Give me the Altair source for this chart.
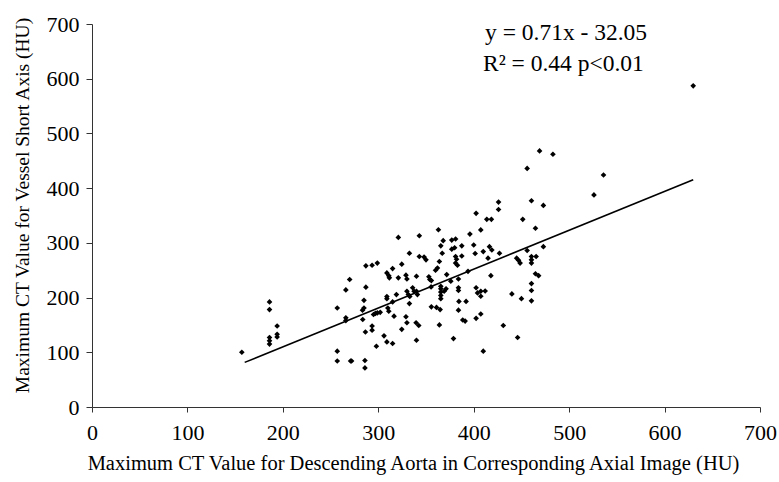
import altair as alt
import pandas as pd

# Scatter data (Descending aorta HU, Vessel short axis HU)
aorta_hu = [
    157, 186, 186, 194, 194, 194, 186, 186, 186, 257, 266, 270, 266, 266, 257, 257, 271,
    402.5, 363, 396, 321, 343, 368, 377, 381, 365.5, 377, 380, 387.5, 400, 332.6,
    343, 348, 350, 367, 381, 382, 387.5, 381, 383, 364, 362, 360, 401.5,
    287, 293.5, 299, 315, 309, 311, 311.6, 324.6, 321, 329, 330, 340,
    353, 354, 355.6, 371.7, 376, 384, 394, 287, 285, 285, 283.5,
    295, 297, 299, 302, 283.7, 293.5, 293.5, 286.5, 298, 306, 309, 315,
    309, 309, 315, 310, 311, 316.5, 319, 330, 331.5, 333, 336, 337.5, 332.6,
    340, 341, 329, 330, 324.6, 339.6, 342.4, 340, 355.3, 355.6, 361, 364.8,
    365.5, 365.5, 365.5, 365.5, 365.5, 369, 371, 364, 384, 384, 384.5, 392, 384,
    388.5, 391, 402.5, 378.8, 402.5, 404, 272, 286, 286,
    469, 483, 456, 426, 426, 460.5, 473, 413.7, 418.5, 451.4, 407.4, 464.7,
    416.5, 419, 410, 427, 473, 456, 415, 445, 447, 448.6, 460.5, 460.5, 460.5, 465.4,
    418, 464.7, 468, 407.4, 412, 407.4, 460.5, 460.5, 460.5, 440, 450, 407.4,
    431, 446, 410, 526, 536, 630,
]
vessel_hu = [
    100, 192, 178, 148, 133, 128, 127, 121, 115, 181, 214, 233, 163, 158, 102, 84, 84,
    354, 324, 316, 310, 313, 304, 305, 307, 294.5, 288.5, 291, 294.5, 296, 281,
    275, 274, 269, 281, 275, 270, 276, 263, 259, 266, 254, 250, 280.5,
    258, 259, 263, 253, 245, 240, 236, 261, 236, 241, 234, 239,
    238, 233, 231, 242, 230, 234, 248, 219, 195, 181, 177,
    169, 171, 172, 173, 160, 148, 140.5, 137, 111, 130, 119, 116,
    202, 198, 192, 181, 175, 166, 205.5, 211.5, 205.5, 202, 218, 211.5, 189,
    211.5, 205.5, 165, 154, 142, 154, 149, 122, 219.5, 183, 182, 178,
    220.5, 216, 210, 204, 198, 211.5, 216, 150, 218, 213, 193, 193, 177,
    159, 157, 162, 125, 218, 208.5, 84, 85, 71.5,
    468, 462, 436, 374.5, 361, 377, 368.5, 343, 343, 343, 323.6, 326.7,
    293, 287, 284, 281, 293, 286, 272, 272, 268, 263, 275, 269, 263, 275,
    240, 243.6, 240, 211.5, 212, 202.4, 225.5, 213, 194, 206.7, 198, 170,
    149, 127, 102, 387.6, 424, 587,
]

# Regression reported on the chart: y = 0.71x - 32.05, drawn over the data range
slope = 0.71
intercept = -32.05
fit_x_range = [160, 630]

axis_ticks = [0, 100, 200, 300, 400, 500, 600, 700]
equation_lines = ["y = 0.71x - 32.05", "R\u00b2 = 0.44  p<0.01"]

FONT = "Liberation Serif"

points = pd.DataFrame({"aorta": aorta_hu, "vessel": vessel_hu})
fit = pd.DataFrame({
    "aorta": fit_x_range,
    "vessel": [slope * v + intercept for v in fit_x_range],
})

x_scale = alt.Scale(domain=[0, 700], nice=False, zero=True)
y_scale = alt.Scale(domain=[0, 700], nice=False, zero=True)

x_axis = alt.Axis(
    values=axis_ticks, title="Maximum CT Value for Descending Aorta in Corresponding Axial Image (HU)",
    grid=False, tickSize=5, tickColor="#333", domainColor="#333",
    labelFont=FONT, labelFontSize=22, labelColor="black", labelPadding=10, labelFlush=False,
    titleFont=FONT, titleFontSize=20.5, titleFontWeight="normal", titleColor="black", titlePadding=10,
    titleX=321,
)
y_axis = alt.Axis(
    values=axis_ticks, title="Maximum CT Value for Vessel Short Axis (HU)",
    grid=False, tickSize=6, tickColor="#333", domainColor="#333",
    labelFont=FONT, labelFontSize=22, labelColor="black", labelPadding=7, labelFlush=False,
    titleFont=FONT, titleFontSize=19.5, titleFontWeight="normal", titleColor="black", titlePadding=14,
    titleY=181,
)

scatter = alt.Chart(points).mark_point(
    filled=True, shape="diamond", size=32, color="black", opacity=1
).encode(
    x=alt.X("aorta:Q", scale=x_scale, axis=x_axis),
    y=alt.Y("vessel:Q", scale=y_scale, axis=y_axis),
)

line = alt.Chart(fit).mark_line(color="black", strokeWidth=1.6).encode(
    x=alt.X("aorta:Q", scale=x_scale),
    y=alt.Y("vessel:Q", scale=y_scale),
)

eq1 = alt.Chart(pd.DataFrame({"t": [equation_lines[0]]})).mark_text(
    font=FONT, fontSize=23.5, align="left", baseline="alphabetic", color="black"
).encode(text="t:N", x=alt.value(393), y=alt.value(16))

eq2 = alt.Chart(pd.DataFrame({"t": [equation_lines[1]]})).mark_text(
    font=FONT, fontSize=23.5, align="left", baseline="alphabetic", color="black"
).encode(text="t:N", x=alt.value(391), y=alt.value(47))

chart = alt.layer(scatter, line, eq1, eq2).properties(
    width=668, height=383,
    padding={"left": 92, "top": 24, "right": 19, "bottom": 75},
    autosize=alt.AutoSizeParams(type="none"),
    background="white",
).configure_view(stroke=None)

chart.save("out.html", embed_options={"renderer": "svg", "actions": False})
